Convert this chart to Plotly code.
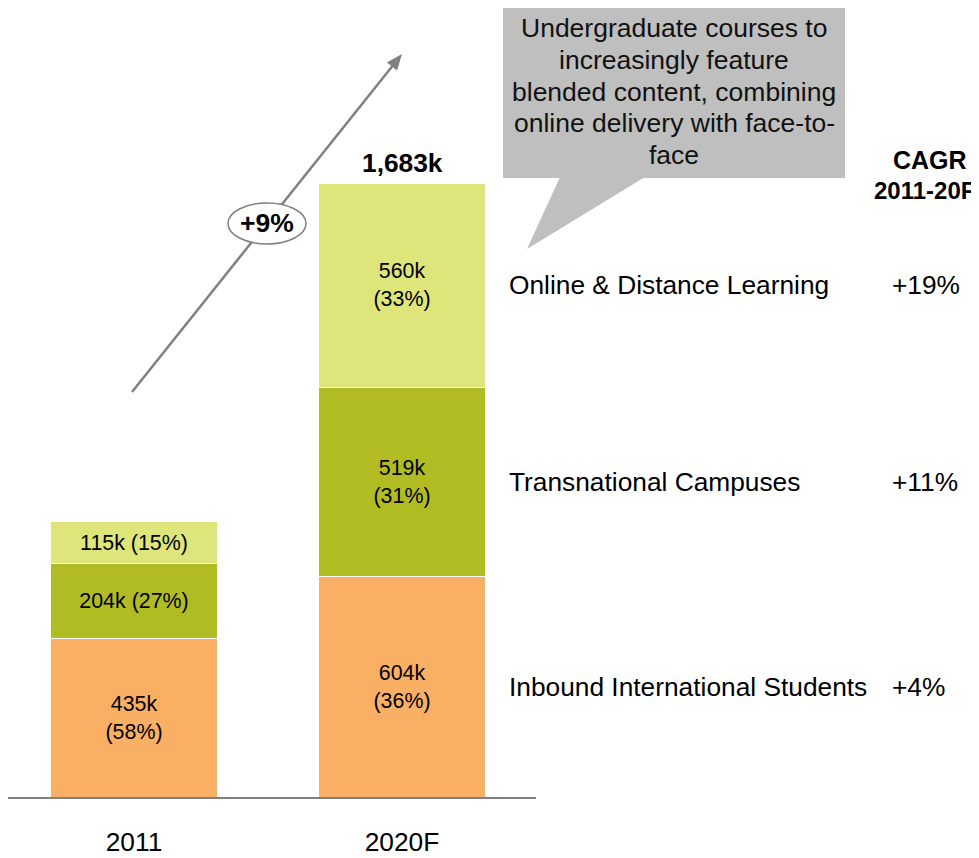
import plotly.graph_objects as go

# ---------------- data ----------------
years = ["2011", "2020F"]
segment_names = ["Inbound International Students", "Transnational Campuses", "Online & Distance Learning"]
inbound = [435, 604]
transnational = [204, 519]
online = [115, 560]
inbound_pct = [58, 36]
transnational_pct = [27, 31]
online_pct = [15, 33]
cagr = ["+4%", "+11%", "+19%"]
overall_cagr = "+9%"
callout_lines = [
    "Undergraduate courses to",
    "increasingly feature",
    "blended content, combining",
    "online delivery with face-to-",
    "face",
]
cagr_header = ["CAGR", "2011-20F"]

# ---------------- styling ----------------
OFF = 8                      # page body margin of the html page
W, H = 979 - OFF, 858 - OFF
BASE_REF = 797               # baseline row in the 979x858 frame
PLOT_BOTTOM = BASE_REF - OFF # baseline row in figure pixels
PX_PER_K = 0.36482
FONT = "Arial, 'Liberation Sans', sans-serif"
colors = ["#F9B064", "#B0BC22", "#DDE57B"]
GRAY = "#808080"


def px(x):
    """reference-frame x pixel -> paper x"""
    return (x - OFF) / W


def py(y):
    """reference-frame y pixel -> paper y"""
    return (PLOT_BOTTOM - (y - OFF)) / PLOT_BOTTOM


def label(v, p, two_line):
    return f"{v}k<br>({p}%)" if two_line else f"{v}k ({p}%)"


series = [
    (segment_names[0], inbound, inbound_pct),
    (segment_names[1], transnational, transnational_pct),
    (segment_names[2], online, online_pct),
]

fig = go.Figure()
for (name, vals, pcts), col in zip(series, colors):
    fig.add_trace(go.Bar(
        x=years, y=vals, name=name,
        marker=dict(color=col, line=dict(color="white", width=1)),
        width=0.62,
        text=[label(v, p, v >= 300) for v, p in zip(vals, pcts)],
        textposition="inside", insidetextanchor="middle", textangle=0,
        constraintext="none",
        textfont=dict(family=FONT, size=21.4, color="black"),
        hoverinfo="skip",
    ))

totals = [a + b + c for a, b, c in zip(inbound, transnational, online)]
annotations = []
for yr, t in zip(years, totals):
    annotations.append(dict(
        x=yr, y=t, xref="x", yref="y", text=f"<b>{t:,}k</b>", showarrow=False,
        yanchor="bottom", yshift=3, font=dict(family=FONT, size=26.3, color="black"),
    ))

# right-side segment labels and CAGR values, aligned with 2020F segments
base = 0
for (name, vals, _), g in zip(series, cagr):
    mid = base + vals[1] / 2
    base += vals[1]
    annotations.append(dict(
        x=px(507), y=mid, xref="paper", yref="y", text=name, showarrow=False,
        xanchor="left", yanchor="middle", font=dict(family=FONT, size=26.3, color="black"),
    ))
    annotations.append(dict(
        x=px(890), y=mid, xref="paper", yref="y", text=g, showarrow=False,
        xanchor="left", yanchor="middle", font=dict(family=FONT, size=26.3, color="black"),
    ))

# CAGR header
annotations.append(dict(
    x=px(930), y=py(160), xref="paper", yref="paper", text=f"<b>{cagr_header[0]}</b>",
    showarrow=False, xanchor="center", yanchor="middle",
    font=dict(family=FONT, size=25, color="black"),
))
annotations.append(dict(
    x=px(872), y=py(190), xref="paper", yref="paper", text=f"<b>{cagr_header[1]}</b>",
    showarrow=False, xanchor="left", yanchor="middle",
    font=dict(family=FONT, size=24, color="black"),
))

# callout text
for i, line in enumerate(callout_lines):
    annotations.append(dict(
        x=px(674), y=py(28 + i * 31.75), xref="paper", yref="paper", text=line,
        showarrow=False, xanchor="center", yanchor="middle",
        font=dict(family=FONT, size=26.5, color="#111111"),
    ))

# +9% label
annotations.append(dict(
    x=px(267), y=py(223), xref="paper", yref="paper", text=f"<b>{overall_cagr}</b>",
    showarrow=False, xanchor="center", yanchor="middle",
    font=dict(family=FONT, size=26.5, color="black"),
))

# ---------------- shapes ----------------
shapes = []
# callout box
shapes.append(dict(type="rect", xref="paper", yref="paper",
                   x0=px(503), x1=px(845), y0=py(178), y1=py(2),
                   fillcolor="#BFBFBF", line=dict(width=0), layer="below"))
shapes.append(dict(type="path", xref="paper", yref="paper",
                   path=f"M {px(560)} {py(177)} L {px(645)} {py(177)} L {px(527)} {py(249)} Z",
                   fillcolor="#BFBFBF", line=dict(width=0), layer="below"))

# growth arrow
sx, sy, tx, ty = 132, 392, 402, 54
dx, dy = tx - sx, ty - sy
L = (dx ** 2 + dy ** 2) ** 0.5
ux, uy = dx / L, dy / L
head_len, head_half = 16, 6.5
bx, by = tx - head_len * ux, ty - head_len * uy
nx, ny = -uy, ux
shapes.append(dict(type="line", xref="paper", yref="paper",
                   x0=px(sx), y0=py(sy), x1=px(bx + ux * 2), y1=py(by + uy * 2),
                   line=dict(color=GRAY, width=2.5)))
shapes.append(dict(type="path", xref="paper", yref="paper",
                   path=(f"M {px(tx)} {py(ty)} L {px(bx + nx * head_half)} {py(by + ny * head_half)} "
                         f"L {px(bx - nx * head_half)} {py(by - ny * head_half)} Z"),
                   fillcolor=GRAY, line=dict(width=0)))
# ellipse
shapes.append(dict(type="circle", xref="paper", yref="paper",
                   x0=px(228), x1=px(306), y0=py(244), y1=py(203),
                   fillcolor="white", line=dict(color=GRAY, width=1.5)))

# x axis: bar centres at reference x=134 and x=402 (268 px per category)
x_left = (OFF - 134) / 268
x_right = (536 - 134) / 268

fig.update_layout(
    width=W, height=H,
    margin=dict(l=0, r=0, t=0, b=H - PLOT_BOTTOM),
    barmode="stack",
    showlegend=False,
    plot_bgcolor="white", paper_bgcolor="white",
    font=dict(family=FONT, color="black"),
    xaxis=dict(domain=[0, (536 - OFF) / W], range=[x_left, x_right], type="category",
               showline=True, linecolor=GRAY, linewidth=2, showgrid=False,
               ticks="", tickfont=dict(family=FONT, size=26.3, color="black"),
               ticklabelstandoff=20, zeroline=False),
    yaxis=dict(range=[0, PLOT_BOTTOM / PX_PER_K], visible=False, showgrid=False,
               zeroline=False),
    annotations=annotations,
    shapes=shapes,
)

fig.write_html("out.html")
